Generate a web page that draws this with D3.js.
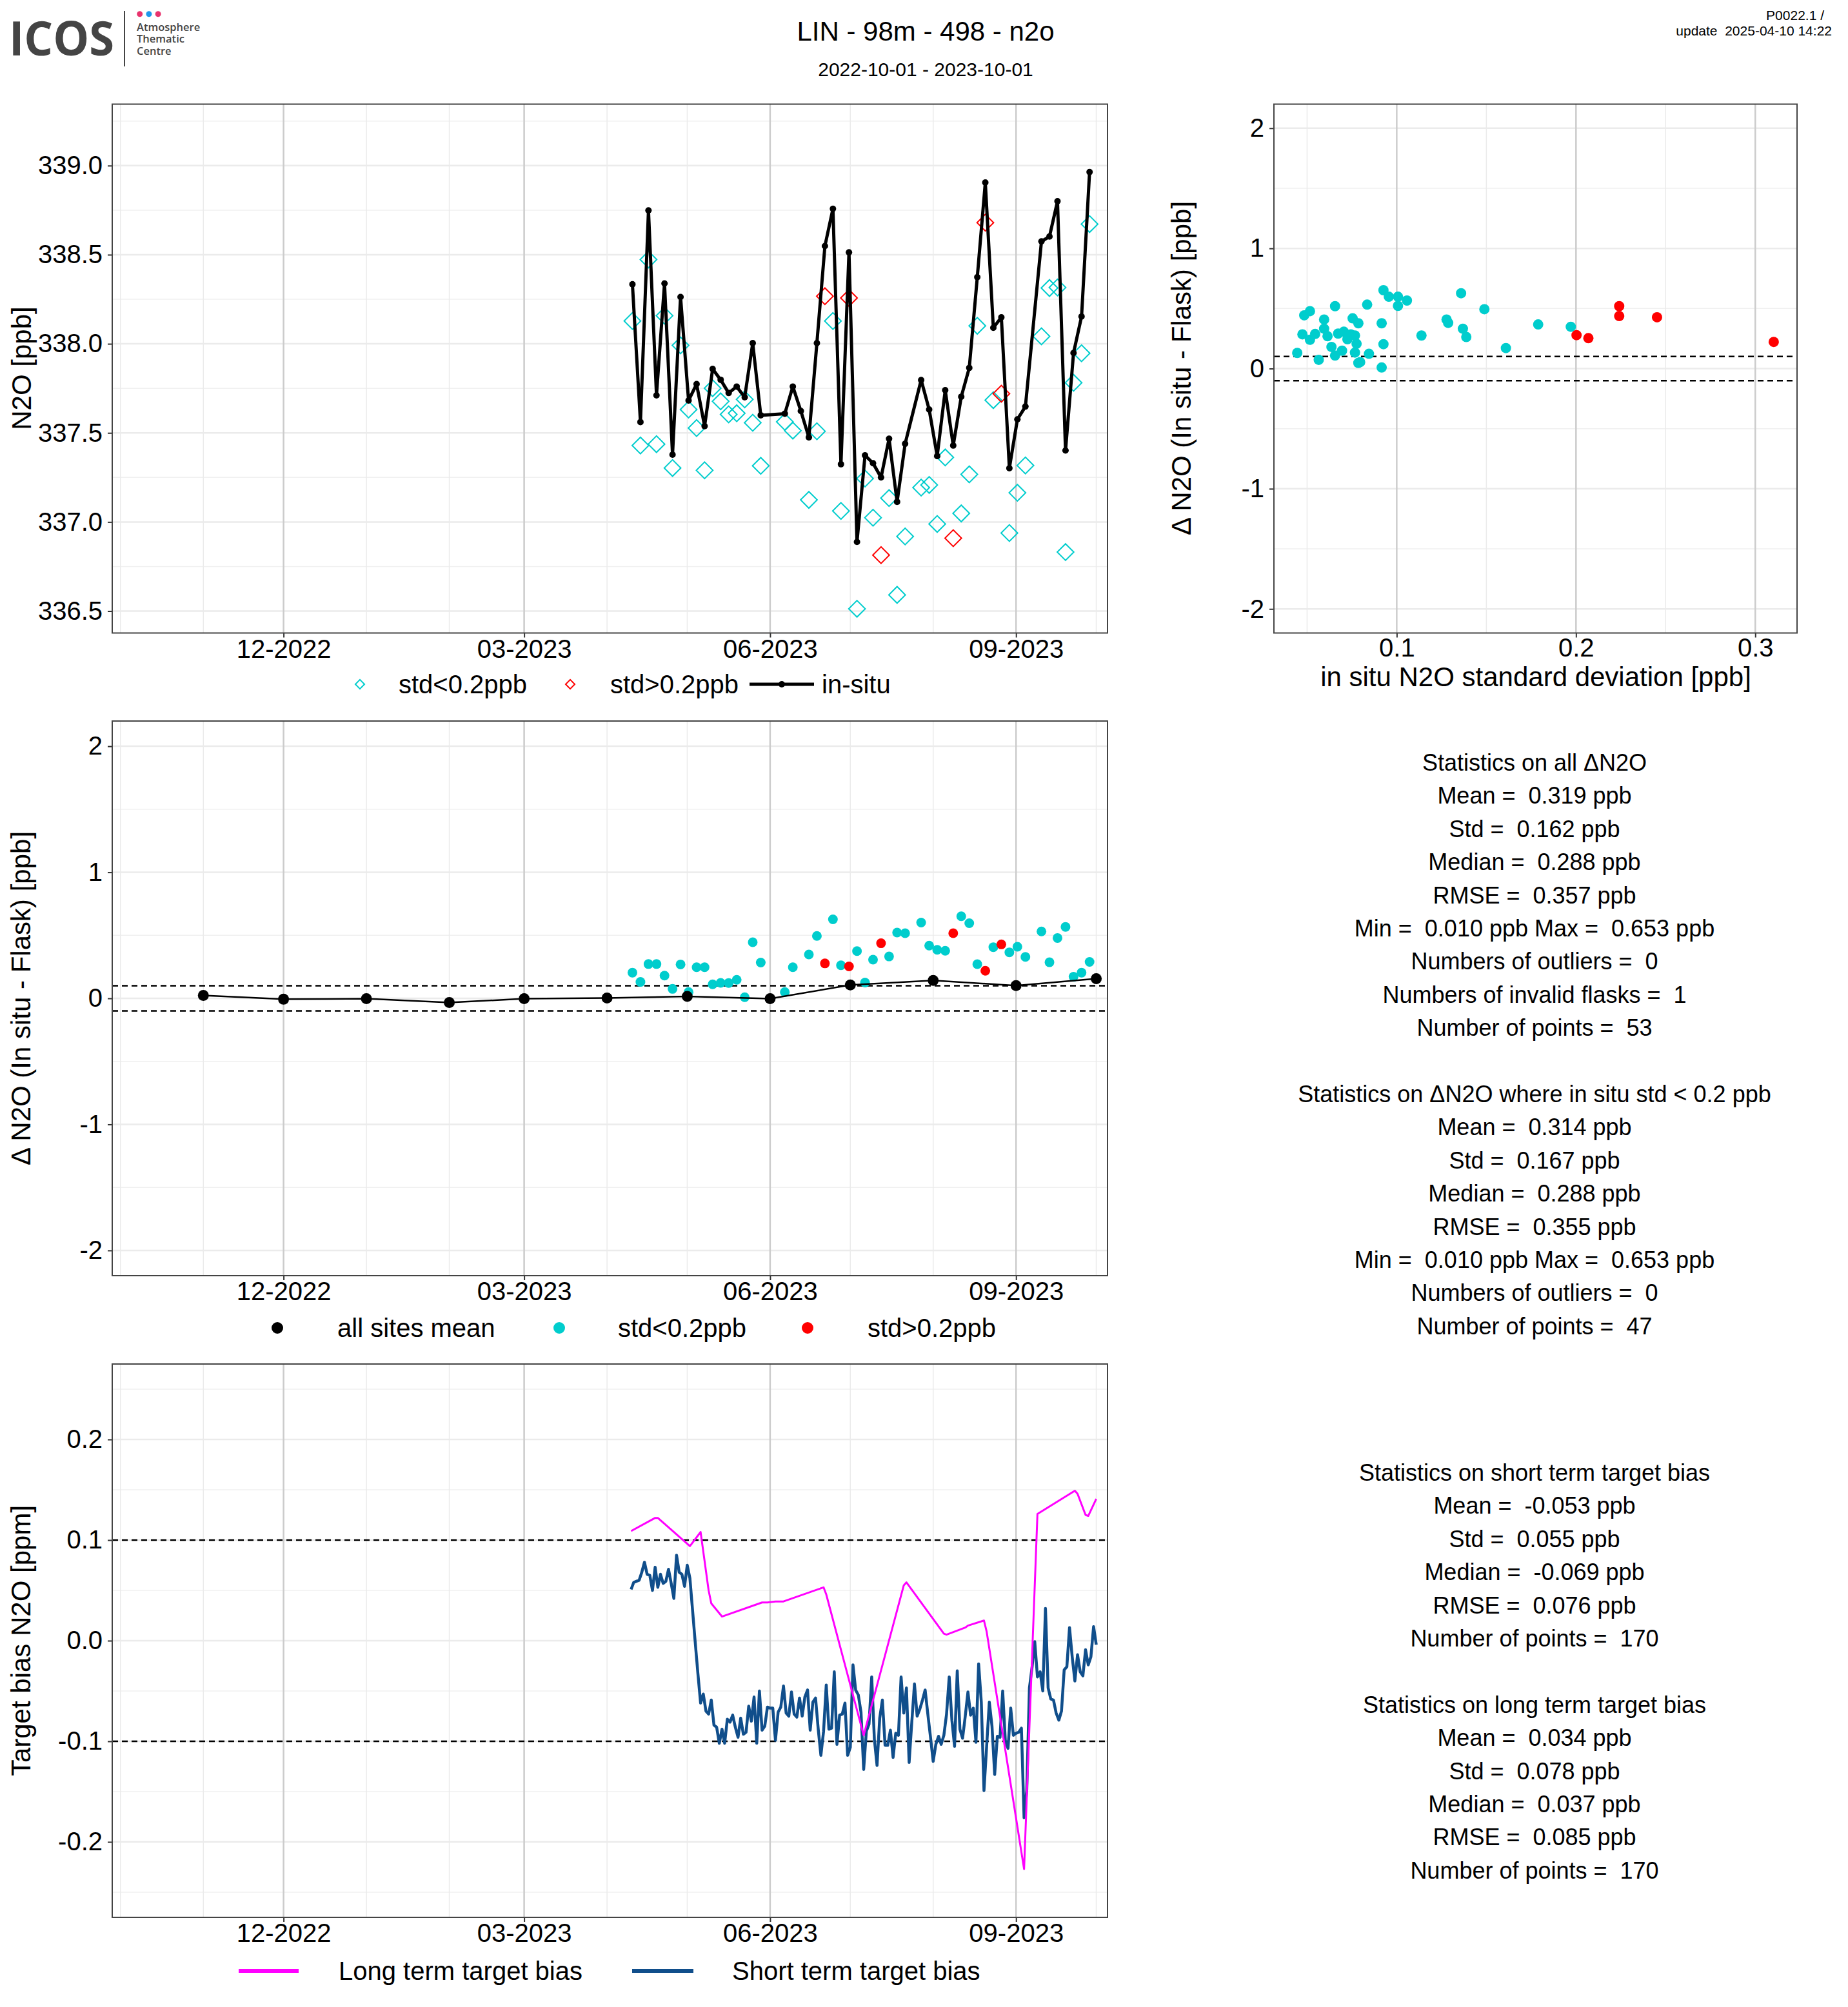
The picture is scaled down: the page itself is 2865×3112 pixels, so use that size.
<!DOCTYPE html>
<html>
<head>
<meta charset="utf-8">
<script src="https://cdn.jsdelivr.net/npm/d3@7"></script>
<style>
  body { margin: 0; background: #fff; }
</style>
</head>
<body>
<svg id="chart"></svg>
<script>
// ---- data ----
const timeTicks = ['2022-12-01', '2023-03-01', '2023-06-01', '2023-09-01']
const n2oTicks = [336.5, 337.0, 337.5, 338.0, 338.5, 339.0]
const n2oMinor = [336.75, 337.25, 337.75, 338.25, 338.75, 339.25]
const deltaTicks = [-2, -1, 0, 1, 2]
const deltaMinor = [-1.5, -0.5, 0.5, 1.5]
const biasTicks = [-0.2, -0.1, 0.0, 0.1, 0.2]
const biasMinor = [-0.25, -0.15, -0.05, 0.05, 0.15, 0.25]
const stdTicks = [0.1, 0.2, 0.3]
const stdMinor = [0.05, 0.15, 0.25]
const limitLines = [-0.1, 0.1]
const stdLimit = 0.2

const flaskDays = ['2023-04-10','2023-04-13','2023-04-16','2023-04-19','2023-04-22','2023-04-25','2023-04-28',
  '2023-05-01','2023-05-04','2023-05-07','2023-05-10','2023-05-13','2023-05-16','2023-05-19','2023-05-22','2023-05-25','2023-05-28',
  '2023-06-06','2023-06-09','2023-06-15','2023-06-18','2023-06-21','2023-06-24','2023-06-27','2023-06-30',
  '2023-07-03','2023-07-06','2023-07-09','2023-07-12','2023-07-15','2023-07-18','2023-07-21','2023-07-27','2023-07-30',
  '2023-08-02','2023-08-05','2023-08-08','2023-08-11','2023-08-14','2023-08-17','2023-08-20','2023-08-23','2023-08-26','2023-08-29',
  '2023-09-01','2023-09-04','2023-09-10','2023-09-13','2023-09-16','2023-09-19','2023-09-22','2023-09-25','2023-09-28']
const flaskN2O = [338.128, 337.429, 338.473, 337.437, 338.158, 337.303, 337.991, 337.631, 337.527, 337.290,
  337.751, 337.677, 337.604, 337.610, 337.688, 337.557, 337.315, 337.562, 337.513, 337.124,
  337.509, 338.267, 338.128, 337.062, 338.257, 336.513, 337.244, 337.024, 336.814, 337.134,
  336.591, 336.919, 337.193, 337.208, 336.989, 337.362, 336.909, 337.048, 337.267, 338.101,
  338.680, 337.684, 337.720, 336.938, 337.164, 337.317, 338.042, 338.313, 338.316, 336.831,
  337.781, 337.947, 338.672]
const flaskDelta = [0.204, 0.130, 0.272, 0.272, 0.180, 0.075, 0.269, 0.050, 0.247, 0.247,
  0.111, 0.123, 0.122, 0.147, 0.009, 0.445, 0.284, 0.050, 0.247, 0.348,
  0.495, 0.277, 0.627, 0.262, 0.253, 0.375, 0.125, 0.307, 0.437, 0.332,
  0.522, 0.517, 0.601, 0.418, 0.385, 0.377, 0.517, 0.651, 0.596, 0.271,
  0.219, 0.406, 0.428, 0.365, 0.409, 0.329, 0.531, 0.286, 0.479, 0.567,
  0.171, 0.204, 0.289]
// flasks sampled while in situ std > 0.2 ppb
const highStdFlasks = [21, 24, 28, 36, 40, 42]

const inSituDays = ['2023-04-10','2023-04-13','2023-04-16','2023-04-19','2023-04-22','2023-04-25','2023-04-28',
  '2023-05-01','2023-05-04','2023-05-07','2023-05-10','2023-05-13','2023-05-16','2023-05-19','2023-05-22','2023-05-25','2023-05-28',
  '2023-06-06','2023-06-09','2023-06-12','2023-06-15','2023-06-18','2023-06-21','2023-06-24','2023-06-27','2023-06-30',
  '2023-07-03','2023-07-06','2023-07-09','2023-07-12','2023-07-15','2023-07-18','2023-07-21','2023-07-27','2023-07-30',
  '2023-08-02','2023-08-05','2023-08-08','2023-08-11','2023-08-14','2023-08-17','2023-08-20','2023-08-23','2023-08-26','2023-08-29',
  '2023-09-01','2023-09-04','2023-09-10','2023-09-13','2023-09-16','2023-09-19','2023-09-22','2023-09-25','2023-09-28']
const inSituN2O = [338.334, 337.561, 338.749, 337.711, 338.339, 337.378, 338.263, 337.682, 337.774, 337.538,
  337.859, 337.798, 337.724, 337.760, 337.700, 338.004, 337.599, 337.608, 337.760, 337.623,
  337.475, 338.004, 338.549, 338.758, 337.324, 338.513, 336.888, 337.374, 337.330, 337.250,
  337.467, 337.113, 337.439, 337.797, 337.631, 337.370, 337.740, 337.429, 337.703, 337.865,
  338.374, 338.905, 338.090, 338.149, 337.302, 337.576, 337.648, 338.575, 338.602, 338.800,
  337.401, 337.949, 338.153, 338.964]

const meanDays = ['2022-11-01','2022-12-01','2023-01-01','2023-02-01','2023-03-01','2023-04-01',
  '2023-05-01','2023-06-01','2023-07-01','2023-08-01','2023-09-01','2023-10-01']
const meanDelta = [0.023, -0.007, -0.003, -0.033, -0.003, 0.003, 0.015, -0.003, 0.106, 0.142, 0.101, 0.156]

const scatterStd = [0.0445, 0.0474, 0.0484, 0.0516, 0.0516, 0.0545, 0.0565, 0.0595, 0.0595, 0.0614,
  0.0636, 0.0656, 0.0656, 0.0673, 0.0695, 0.0705, 0.0725, 0.0744, 0.0754, 0.0767,
  0.0767, 0.0776, 0.0786, 0.0786, 0.0796, 0.0835, 0.0845, 0.0916, 0.0916, 0.0926,
  0.0926, 0.0956, 0.1007, 0.1007, 0.1057, 0.1138, 0.1278, 0.1287, 0.1359, 0.1369,
  0.1388, 0.1489, 0.1609, 0.1789, 0.1971, 0.2003, 0.2069, 0.2241, 0.2241, 0.2452, 0.3103]
const scatterDelta = [0.130, 0.285, 0.443, 0.478, 0.240, 0.288, 0.073, 0.408, 0.332, 0.269,
  0.180, 0.519, 0.108, 0.291, 0.149, 0.307, 0.244, 0.285, 0.418, 0.275,
  0.133, 0.206, 0.377, 0.047, 0.054, 0.532, 0.123, 0.377, 0.009, 0.652,
  0.203, 0.598, 0.598, 0.522, 0.566, 0.275, 0.408, 0.380, 0.627, 0.332,
  0.263, 0.494, 0.171, 0.367, 0.348, 0.278, 0.253, 0.519, 0.437, 0.427, 0.222]

const longDays = ['2023-04-10','2023-04-19','2023-04-20','2023-05-02','2023-05-06','2023-05-09','2023-05-10',
  '2023-05-14','2023-05-29','2023-05-31','2023-06-03','2023-06-06','2023-06-21','2023-06-22','2023-07-06',
  '2023-07-21','2023-07-22','2023-08-05','2023-08-06','2023-08-13','2023-08-14','2023-08-20','2023-08-21',
  '2023-09-04','2023-09-09','2023-09-23','2023-09-24','2023-09-27','2023-09-28','2023-10-01']
const longBias = [0.109, 0.122, 0.122, 0.094, 0.108, 0.050, 0.037, 0.024, 0.038, 0.038, 0.039, 0.039,
  0.053, 0.046, -0.094, 0.055, 0.058, 0.007, 0.006, 0.013, 0.015, 0.020, 0.009,
  -0.227, 0.126, 0.149, 0.146, 0.125, 0.124, 0.141]

// daily short term target bias, first day 2023-04-10
const shortStart = '2023-04-10'
const shortBias = [0.051, 0.058, 0.059, 0.060, 0.068, 0.078, 0.066, 0.065, 0.050, 0.073,
  0.053, 0.066, 0.057, 0.059, 0.071, 0.057, 0.042, 0.085, 0.068, 0.066,
  0.054, 0.075, 0.062, 0.030, -0.002, -0.033,
  -0.062, -0.053, -0.070, -0.073, -0.059, -0.084, -0.086, -0.102, -0.088, -0.102,
  -0.078, -0.081, -0.074, -0.086, -0.096,
  -0.077, -0.093, -0.091, -0.065, -0.080, -0.056, -0.102, -0.050, -0.089, -0.085,
  -0.066, -0.067, -0.067, -0.099, -0.071, -0.066, -0.045, -0.072, -0.075, -0.051,
  -0.073, -0.076, -0.057, -0.075, -0.056, -0.049, -0.089, -0.061, -0.057, -0.088,
  -0.114, -0.090, -0.044, -0.088, -0.087, -0.031, -0.103, -0.074, -0.073, -0.062,
  -0.114, -0.106, -0.024, -0.049, -0.054, -0.071, -0.128, -0.090, -0.083, -0.036,
  -0.098, -0.124, -0.077, -0.059, -0.104, -0.104, -0.089, -0.116, -0.092, -0.094,
  -0.036, -0.072, -0.047, -0.121, -0.081, -0.043, -0.075, -0.068, -0.059, -0.049,
  -0.073, -0.096, -0.120, -0.103, -0.095, -0.103, -0.094, -0.073, -0.036, -0.079,
  -0.105, -0.030, -0.088, -0.097,
  -0.075, -0.051, -0.074, -0.067, -0.101, -0.023, -0.061, -0.149, -0.105, -0.061,
  -0.085, -0.133, -0.095, -0.096, -0.050, -0.100, -0.107, -0.067, -0.094, -0.092,
  -0.091, -0.087, -0.176, -0.149, -0.047, -0.026,
  -0.001, -0.036, -0.031, -0.050, 0.032, -0.047, -0.058, -0.059, -0.072, -0.079,
  -0.070, -0.029, -0.026, 0.013, -0.016, -0.040, -0.014, -0.031, -0.035, -0.009,
  -0.024, -0.016, 0.014, -0.004]

const statsFlask = ['Statistics on all \u0394N2O', 'Mean =  0.319 ppb', 'Std =  0.162 ppb', 'Median =  0.288 ppb',
  'RMSE =  0.357 ppb', 'Min =  0.010 ppb Max =  0.653 ppb', 'Numbers of outliers =  0',
  'Numbers of invalid flasks =  1', 'Number of points =  53', '',
  'Statistics on \u0394N2O where in situ std < 0.2 ppb', 'Mean =  0.314 ppb', 'Std =  0.167 ppb',
  'Median =  0.288 ppb', 'RMSE =  0.355 ppb', 'Min =  0.010 ppb Max =  0.653 ppb',
  'Numbers of outliers =  0', 'Number of points =  47']
const statsTarget = ['Statistics on short term target bias', 'Mean =  -0.053 ppb', 'Std =  0.055 ppb',
  'Median =  -0.069 ppb', 'RMSE =  0.076 ppb', 'Number of points =  170', '',
  'Statistics on long term target bias', 'Mean =  0.034 ppb', 'Std =  0.078 ppb',
  'Median =  0.037 ppb', 'RMSE =  0.085 ppb', 'Number of points =  170']

// ---- setup ----
const W = 2865, H = 3112
const FONT = '"Liberation Sans", Arial, Helvetica, sans-serif'
const LOGO_FONT = '"Open Sans", "Liberation Sans", sans-serif'
const CYAN = '#00cdcd', RED = '#ff0000', MAGENTA = '#ff00ff', NAVY = '#104e8b'

const svg = d3.select('#chart').attr('width', W).attr('height', H)
svg.append('rect').attr('width', W).attr('height', H).attr('fill', '#fff')

const parseDay = d3.timeParse('%Y-%m-%d')
const atNoon = s => d3.timeHour.offset(parseDay(s), 12)
const fmtMonth = d3.timeFormat('%m-%Y')

const x = d3.scaleTime()
  .domain([d3.timeHour.offset(parseDay('2022-10-01'), -74), d3.timeHour.offset(parseDay('2023-10-01'), 101)])
  .range([174, 1717])
const monthLines = d3.timeMonth.range(parseDay('2022-10-01'), parseDay('2023-10-02'))
const majorDates = timeTicks.map(parseDay)

function text(str, px, py, size, anchor = 'middle', g = svg) {
  return g.append('text').attr('x', px).attr('y', py).attr('font-size', size)
    .attr('font-family', FONT).attr('text-anchor', anchor).attr('fill', '#000')
    .style('white-space', 'pre').text(str)
}

function grid(xs, ys, xMajor, xMinor, yMajor, yMinor) {
  const [x0, x1] = xs.range(), [y0, y1] = ys.range()
  const g = svg.append('g')
  const h = (vals, col, w) => g.append('g').selectAll('line').data(vals).join('line')
    .attr('x1', x0).attr('x2', x1).attr('y1', d => ys(d)).attr('y2', d => ys(d))
    .attr('stroke', col).attr('stroke-width', w)
  const v = (vals, col, w) => g.append('g').selectAll('line').data(vals).join('line')
    .attr('y1', y0).attr('y2', y1).attr('x1', d => xs(d)).attr('x2', d => xs(d))
    .attr('stroke', col).attr('stroke-width', w)
  h(yMinor, '#f0f0f0', 1.5)
  h(yMajor, '#ebebeb', 2.5)
  v(xMinor, '#ebebeb', 1.5)
  v(xMajor, '#cccccc', 2.5)
}

function axes(xs, ys, xMajor, xFmt, yMajor, yFmt, xPad = 3) {
  const g = svg.append('g')
  g.append('g').attr('transform', `translate(0,${ys.range()[0]})`)
    .call(d3.axisBottom(xs).tickValues(xMajor).tickFormat(xFmt).tickSize(7).tickPadding(xPad))
  g.append('g').attr('transform', `translate(${xs.range()[0]},0)`)
    .call(d3.axisLeft(ys).tickValues(yMajor).tickFormat(yFmt).tickSize(7).tickPadding(8))
  g.selectAll('.domain').remove()
  g.selectAll('.tick line').attr('stroke', '#333').attr('stroke-width', 2)
  g.selectAll('.tick text').attr('font-size', 40).attr('font-family', FONT).attr('fill', '#000')
}

function refLines(xs, ys) {
  svg.append('g').selectAll('line').data(limitLines).join('line')
    .attr('x1', xs.range()[0]).attr('x2', xs.range()[1])
    .attr('y1', d => ys(d)).attr('y2', d => ys(d))
    .attr('stroke', '#000').attr('stroke-width', 2.5).attr('stroke-dasharray', '9,6')
}

function border(xs, ys) {
  const [x0, x1] = xs.range(), [y0, y1] = ys.range()
  svg.append('rect').attr('x', x0).attr('y', y1).attr('width', x1 - x0).attr('height', y0 - y1)
    .attr('fill', 'none').attr('stroke', '#444').attr('stroke-width', 2)
}

function yTitle(str, px, py) {
  text(str, 0, 0, 42).attr('transform', `translate(${px},${py}) rotate(-90)`).attr('dy', '0.35em')
}

const diamond = (size) => d3.symbol().type(d3.symbolSquare).size(size)

// ---- header ----
svg.append('text').attr('x', 14).attr('y', 86).attr('font-size', 74).attr('font-weight', 'bold')
  .attr('font-family', LOGO_FONT).attr('fill', '#444').attr('textLength', 163)
  .attr('lengthAdjust', 'spacingAndGlyphs').text('ICOS')
svg.append('line').attr('x1', 193).attr('x2', 193).attr('y1', 17).attr('y2', 103)
  .attr('stroke', '#444').attr('stroke-width', 2)
svg.append('g').selectAll('circle').data(['#e8336d', '#1f98ec', '#e8336d']).join('circle')
  .attr('cx', (d, i) => 216.7 + i * 14.2).attr('cy', 21.7).attr('r', 4.5).attr('fill', d => d)
svg.append('g').selectAll('text').data(['Atmosphere', 'Thematic', 'Centre']).join('text')
  .attr('x', 212).attr('y', (d, i) => 47.7 + i * 18.4).attr('font-size', 16.5).attr('font-weight', 600)
  .attr('font-family', LOGO_FONT).attr('fill', '#444').text(d => d)
text('LIN - 98m - 498 - n2o', 1435, 63, 42)
text('2022-10-01 - 2023-10-01', 1435, 118, 30)
text('P0022.1 /', 2828, 31, 21, 'end')
text('update  2025-04-10 14:22', 2840, 55, 21, 'end')

// ---- panel 1: N2O time series ----
const y1 = d3.scaleLinear().domain([336.377, 339.345]).range([981.5, 161.5])
grid(x, y1, majorDates, monthLines, n2oTicks, n2oMinor)
axes(x, y1, majorDates, fmtMonth, n2oTicks, d => d.toFixed(1))

const flasks = flaskDays.map((d, i) => ({
  date: atNoon(d), n2o: flaskN2O[i], delta: flaskDelta[i], high: highStdFlasks.includes(i)
}))
const inSitu = inSituDays.map((d, i) => ({ date: atNoon(d), n2o: inSituN2O[i] }))

svg.append('g').selectAll('path').data(flasks).join('path')
  .attr('d', diamond(330))
  .attr('transform', d => `translate(${x(d.date)},${y1(d.n2o)}) rotate(45)`)
  .attr('fill', 'none').attr('stroke', d => d.high ? RED : CYAN).attr('stroke-width', 2)

svg.append('path').datum(inSitu)
  .attr('d', d3.line().x(d => x(d.date)).y(d => y1(d.n2o)))
  .attr('fill', 'none').attr('stroke', '#000').attr('stroke-width', 5).attr('stroke-linejoin', 'round')
svg.append('g').selectAll('circle').data(inSitu).join('circle')
  .attr('cx', d => x(d.date)).attr('cy', d => y1(d.n2o)).attr('r', 5).attr('fill', '#000')
border(x, y1)
yTitle('N2O [ppb]', 33, 571)

// legend 1
const lg1 = svg.append('g')
lg1.append('path').attr('d', diamond(100)).attr('transform', 'translate(558,1061) rotate(45)')
  .attr('fill', 'none').attr('stroke', CYAN).attr('stroke-width', 2)
text('std<0.2ppb', 618, 1075, 40, 'start', lg1)
lg1.append('path').attr('d', diamond(100)).attr('transform', 'translate(884,1061) rotate(45)')
  .attr('fill', 'none').attr('stroke', RED).attr('stroke-width', 2)
text('std>0.2ppb', 946, 1075, 40, 'start', lg1)
lg1.append('line').attr('x1', 1162).attr('x2', 1262).attr('y1', 1061).attr('y2', 1061)
  .attr('stroke', '#000').attr('stroke-width', 5)
lg1.append('circle').attr('cx', 1212).attr('cy', 1061).attr('r', 5).attr('fill', '#000')
text('in-situ', 1274, 1075, 40, 'start', lg1)

// ---- panel 2: scatter delta vs std ----
const xs = d3.scaleLinear().domain([0.0315, 0.3233]).range([1975, 2786])
const ys = d3.scaleLinear().domain([-2.2, 2.2]).range([981.5, 161.5])
grid(xs, ys, stdTicks, stdMinor, deltaTicks, deltaMinor)
refLines(xs, ys)
axes(xs, ys, stdTicks, d => d.toFixed(1), deltaTicks, d => String(d), 1)
svg.append('g').selectAll('circle').data(scatterStd).join('circle')
  .attr('cx', d => xs(d)).attr('cy', (d, i) => ys(scatterDelta[i])).attr('r', 8)
  .attr('fill', d => d > stdLimit ? RED : CYAN)
border(xs, ys)
yTitle('\u0394 N2O (In situ - Flask) [ppb]', 1831, 571)
text('in situ N2O standard deviation [ppb]', 2381, 1064, 42)

// ---- panel 3: delta time series ----
const y3 = d3.scaleLinear().domain([-2.2, 2.2]).range([1978, 1118])
grid(x, y3, majorDates, monthLines, deltaTicks, deltaMinor)
refLines(x, y3)
axes(x, y3, majorDates, fmtMonth, deltaTicks, d => String(d))
svg.append('g').selectAll('circle').data(flasks).join('circle')
  .attr('cx', d => x(d.date)).attr('cy', d => y3(d.delta)).attr('r', 7.5)
  .attr('fill', d => d.high ? RED : CYAN)
const means = meanDays.map((d, i) => ({ date: parseDay(d), delta: meanDelta[i] }))
svg.append('path').datum(means)
  .attr('d', d3.line().x(d => x(d.date)).y(d => y3(d.delta)))
  .attr('fill', 'none').attr('stroke', '#000').attr('stroke-width', 2.5)
svg.append('g').selectAll('circle').data(means).join('circle')
  .attr('cx', d => x(d.date)).attr('cy', d => y3(d.delta)).attr('r', 8.5).attr('fill', '#000')
border(x, y3)
yTitle('\u0394 N2O (In situ - Flask) [ppb]', 32, 1548)

const lg3 = svg.append('g')
;[['#000', 430, 'all sites mean', 523], [CYAN, 867, 'std<0.2ppb', 958], [RED, 1252, 'std>0.2ppb', 1345]]
  .forEach(([c, cx, s, tx]) => {
    lg3.append('circle').attr('cx', cx).attr('cy', 2059).attr('r', 9).attr('fill', c)
    text(s, tx, 2073, 40, 'start', lg3)
  })

// stats text
statsFlask.forEach((s, i) => text(s, 2379, 1195 + i * 51.4, 36))
statsTarget.forEach((s, i) => text(s, 2379, 2296 + i * 51.4, 36))

// ---- panel 4: target bias ----
const y4 = d3.scaleLinear().domain([-0.275, 0.275]).range([2973, 2115])
grid(x, y4, majorDates, monthLines, biasTicks, biasMinor)
refLines(x, y4)
axes(x, y4, majorDates, fmtMonth, biasTicks, d => d.toFixed(1))
const t0 = parseDay(shortStart)
const shortSeries = shortBias.map((v, i) => ({ date: d3.timeDay.offset(t0, i), v }))
const longSeries = longDays.map((d, i) => ({ date: parseDay(d), v: longBias[i] }))
const biasLine = d3.line().x(d => x(d.date)).y(d => y4(d.v))
svg.append('path').datum(shortSeries).attr('d', biasLine)
  .attr('fill', 'none').attr('stroke', NAVY).attr('stroke-width', 4.5).attr('stroke-linejoin', 'round')
svg.append('path').datum(longSeries).attr('d', biasLine)
  .attr('fill', 'none').attr('stroke', MAGENTA).attr('stroke-width', 3).attr('stroke-linejoin', 'round')
border(x, y4)
yTitle('Target bias N2O [ppm]', 32, 2544)

const lg4 = svg.append('g')
;[[MAGENTA, 370, 463, 'Long term target bias', 525], [NAVY, 980, 1075, 'Short term target bias', 1135]]
  .forEach(([c, a, b, s, tx]) => {
    lg4.append('line').attr('x1', a).attr('x2', b).attr('y1', 3056).attr('y2', 3056)
      .attr('stroke', c).attr('stroke-width', 6)
    text(s, tx, 3070, 40, 'start', lg4)
  })
</script>
</body>
</html>
